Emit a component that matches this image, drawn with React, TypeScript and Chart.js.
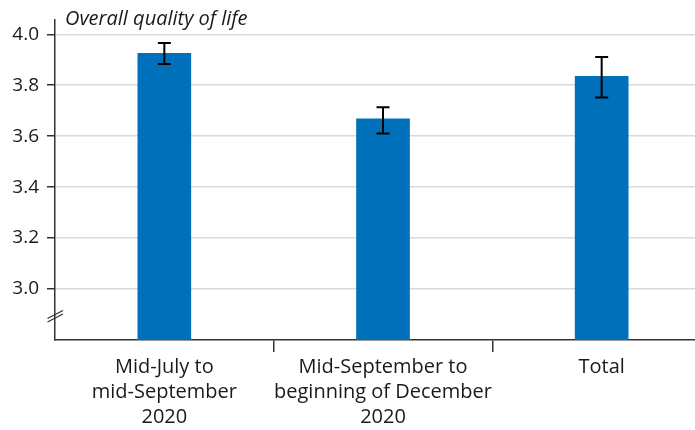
import React, { useEffect, useRef } from "react";
import { Chart, registerables } from "chart.js";

Chart.register(...registerables);

const categories: string[][] = [
  ["Mid-July to", "mid-September", "2020"],
  ["Mid-September to", "beginning of December", "2020"],
  ["Total"],
];
const means = [3.925, 3.668, 3.835];
const lower = [3.883, 3.611, 3.752];
const upper = [3.966, 3.714, 3.911];
const yTicks = [3.0, 3.2, 3.4, 3.6, 3.8, 4.0];
const yTitle = "Overall quality of life";

const FONT = "'Open Sans', 'Noto Sans', sans-serif";
const TEXT = "#1a1a1a";
const AXIS = "#333333";

const errorBarPlugin = {
  id: "errorBars",
  afterDatasetsDraw(chart: any) {
    const { ctx } = chart;
    const x = chart.scales.x;
    const y = chart.scales.y;
    ctx.save();
    ctx.strokeStyle = "#000";
    ctx.lineWidth = 2;
    for (let i = 0; i < means.length; i++) {
      const cx = x.getPixelForValue(i);
      const yl = y.getPixelForValue(lower[i]);
      const yh = y.getPixelForValue(upper[i]);
      const cap = 6.5;
      ctx.beginPath();
      ctx.moveTo(cx, yl);
      ctx.lineTo(cx, yh);
      ctx.moveTo(cx - cap, yl);
      ctx.lineTo(cx + cap, yl);
      ctx.moveTo(cx - cap, yh);
      ctx.lineTo(cx + cap, yh);
      ctx.stroke();
    }
    ctx.restore();
  },
};

const decorPlugin = {
  id: "decor",
  afterDraw(chart: any) {
    const { ctx, chartArea } = chart;
    ctx.save();
    // axis break marks
    const ax = chartArea.left;
    const by = chartArea.bottom - 26;
    ctx.strokeStyle = AXIS;
    ctx.lineWidth = 1.3;
    ctx.beginPath();
    ctx.moveTo(ax - 7.5, by + 4.5);
    ctx.lineTo(ax + 8, by - 3.5);
    ctx.moveTo(ax - 7.5, by + 8);
    ctx.lineTo(ax + 8, by);
    ctx.stroke();
    // title
    ctx.fillStyle = TEXT;
    ctx.font = "italic 20px " + FONT;
    ctx.textAlign = "left";
    ctx.textBaseline = "alphabetic";
    ctx.fillText(yTitle, chartArea.left + 10, 25);
    ctx.restore();
  },
};

export default function App() {
  const ref = useRef<HTMLCanvasElement>(null);
  useEffect(() => {
    const chart = new Chart(ref.current as HTMLCanvasElement, {
      type: "bar",
      data: {
        labels: categories as any,
        datasets: [
          {
            data: means,
            backgroundColor: "#0070ba",
            borderWidth: 0,
            barThickness: 53,
          },
        ],
      },
      options: {
        animation: false,
        responsive: false,
        maintainAspectRatio: false,
        layout: { padding: { top: 20, right: 0, left: 0, bottom: 0 } },
        plugins: {
          legend: { display: false },
          tooltip: { enabled: false },
          title: { display: false },
        },
        scales: {
          x: {
            type: "category",
            offset: true,
            afterFit: (s: any) => {
              s.height = 90;
            },
            grid: {
              offset: true,
              drawOnChartArea: false,
              drawTicks: true,
              tickLength: 12,
              lineWidth: 1.5,
              tickColor: (c: any) => (c.index === 0 ? "rgba(0,0,0,0)" : AXIS),
            },
            border: { color: AXIS, width: 1.5 },
            ticks: {
              color: TEXT,
              font: { family: FONT, size: 20, lineHeight: 1.25 },
              padding: 3,
              maxRotation: 0,
              autoSkip: false,
            },
          },
          y: {
            type: "linear",
            min: 2.8,
            max: 4.056,
            afterBuildTicks: (s: any) => {
              s.ticks = yTicks.map((v) => ({ value: v }));
            },
            afterFit: (s: any) => {
              s.width = 55;
            },
            grid: {
              color: "#d9d9d9",
              lineWidth: 1.5,
              tickColor: AXIS,
              tickLength: 8,
              drawTicks: true,
            },
            border: { color: AXIS, width: 1.5 },
            ticks: {
              color: TEXT,
              font: { family: FONT, size: 19 },
              padding: 8,
              callback: (v: any) => Number(v).toFixed(1),
            },
          },
        },
      },
      plugins: [errorBarPlugin, decorPlugin],
    });
    return () => chart.destroy();
  }, []);
  return (
    <div
      style={{
        position: "fixed",
        left: 0,
        top: 0,
        width: 695,
        height: 430,
        overflow: "hidden",
        background: "#fff",
      }}
    >
      <canvas ref={ref} width={711} height={430} style={{ width: 711, height: 430, display: "block" }} />
    </div>
  );
}
